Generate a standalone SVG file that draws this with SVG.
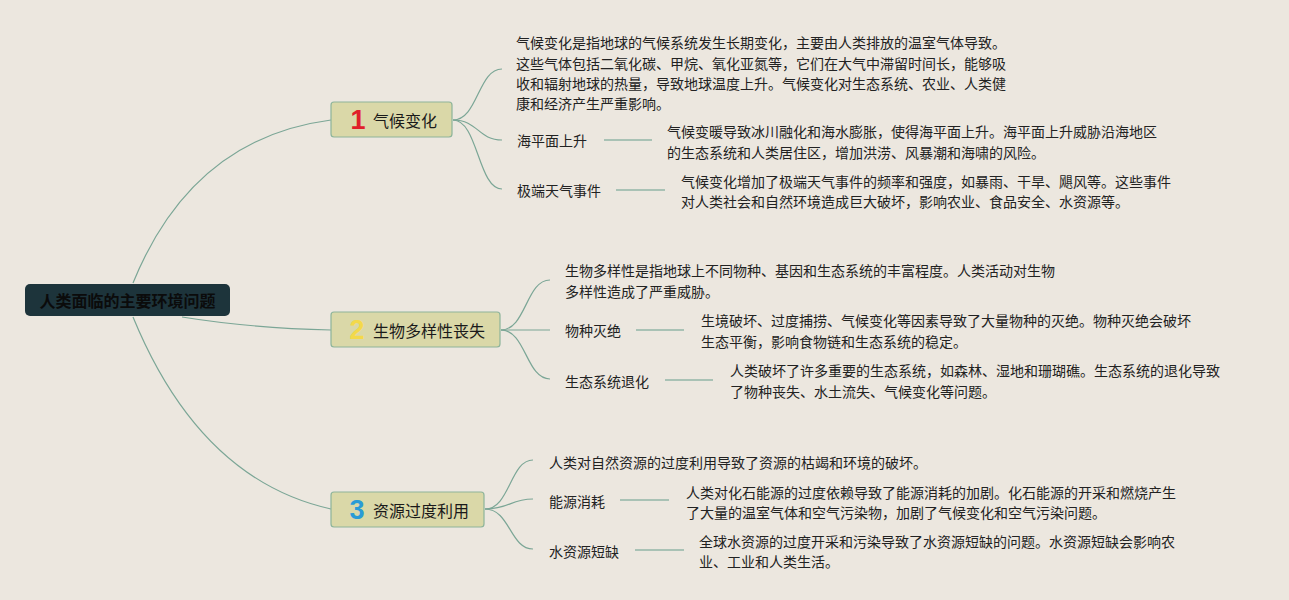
<svg xmlns="http://www.w3.org/2000/svg" width="1289" height="600" viewBox="0 0 1289 600">
<style>
text{font-family:"Noto Sans CJK SC","Noto Sans",sans-serif;fill:#222;}
.root{font-size:16px;font-weight:bold;fill:#0b0b0b;}
.topic{font-size:16px;fill:#1a1a1a;}
.num{font-family:"Liberation Sans",Arial,sans-serif;font-size:27px;font-weight:bold;text-anchor:middle;}
.leaf{font-size:14px;}
.tbox{fill:#DAD8A8;stroke:#8DB49A;stroke-width:1.2;}
.c{fill:none;stroke:#7BA696;stroke-width:1.2;}
.h{fill:none;stroke:#A9C2B5;stroke-width:2;}
</style>
<rect width="1289" height="600" fill="#ECE7DF"/>
<g id="connectors">
<path class="c" d="M133,283 Q192,138 331,120"/>
<path class="c" d="M182,317 Q250,328 331,330"/>
<path class="c" d="M133,317 Q200,480 331,509"/>
<path class="c" d="M453,120 C478,120 478,69 502,69"/>
<path class="c" d="M453,120 C478,120 478,140 502,140"/>
<path class="c" d="M453,120 C478,120 478,189 502,189"/>
<path class="c" d="M501,330 C526,330 526,280 550,280"/>
<path class="c" d="M501,330 L550,330"/>
<path class="c" d="M501,330 C526,330 526,379 550,379"/>
<path class="c" d="M485,509 C510,509 510,460 533,460"/>
<path class="c" d="M485,509 C510,509 510,499 533,499"/>
<path class="c" d="M485,509 C510,509 510,549 533,549"/>
<path class="h" d="M604,140 H652"/>
<path class="h" d="M616,190 H665"/>
<path class="h" d="M636,330 H684"/>
<path class="h" d="M665,380 H713"/>
<path class="h" d="M620,500 H669"/>
<path class="h" d="M635,550 H684"/>
</g>
<g id="root">
<rect x="25" y="284" width="205" height="32" rx="5" fill="#1D343B"/>
<text class="root" x="127.5" y="300" text-anchor="middle" dominant-baseline="central">人类面临的主要环境问题</text>
</g>
<g id="topic1">
<rect class="tbox" x="331" y="102" width="121" height="35" rx="3"/>
<text class="num" x="358" y="120" dominant-baseline="central" fill="#E0202A" style="fill:#E0202A">1</text>
<text class="topic" x="373" y="120" dominant-baseline="central">气候变化</text>
</g>
<g id="topic2">
<rect class="tbox" x="331" y="312" width="169" height="35" rx="3"/>
<text class="num" x="357" y="330" dominant-baseline="central" style="fill:#F3D94B">2</text>
<text class="topic" x="373" y="330" dominant-baseline="central">生物多样性丧失</text>
</g>
<g id="topic3">
<rect class="tbox" x="331" y="492" width="153" height="35" rx="3"/>
<text class="num" x="357" y="510" dominant-baseline="central" style="fill:#2A9BD6">3</text>
<text class="topic" x="373" y="510" dominant-baseline="central">资源过度利用</text>
</g>
<g id="t1-desc">
<text class="leaf" x="516" y="42" dominant-baseline="central">气候变化是指地球的气候系统发生长期变化，主要由人类排放的温室气体导致。</text>
<text class="leaf" x="516" y="62.5" dominant-baseline="central">这些气体包括二氧化碳、甲烷、氧化亚氮等，它们在大气中滞留时间长，能够吸</text>
<text class="leaf" x="516" y="83" dominant-baseline="central">收和辐射地球的热量，导致地球温度上升。气候变化对生态系统、农业、人类健</text>
<text class="leaf" x="516" y="102.5" dominant-baseline="central">康和经济产生严重影响。</text>
</g>
<g id="t1-sea">
<text class="leaf" x="517" y="140" dominant-baseline="central">海平面上升</text>
<text class="leaf" x="667" y="131" dominant-baseline="central">气候变暖导致冰川融化和海水膨胀，使得海平面上升。海平面上升威胁沿海地区</text>
<text class="leaf" x="667" y="152" dominant-baseline="central">的生态系统和人类居住区，增加洪涝、风暴潮和海啸的风险。</text>
</g>
<g id="t1-weather">
<text class="leaf" x="517" y="190" dominant-baseline="central">极端天气事件</text>
<text class="leaf" x="681" y="181" dominant-baseline="central">气候变化增加了极端天气事件的频率和强度，如暴雨、干旱、飓风等。这些事件</text>
<text class="leaf" x="681" y="201" dominant-baseline="central">对人类社会和自然环境造成巨大破坏，影响农业、食品安全、水资源等。</text>
</g>
<g id="t2-desc">
<text class="leaf" x="565" y="270" dominant-baseline="central">生物多样性是指地球上不同物种、基因和生态系统的丰富程度。人类活动对生物</text>
<text class="leaf" x="565" y="291" dominant-baseline="central">多样性造成了严重威胁。</text>
</g>
<g id="t2-species">
<text class="leaf" x="565" y="330" dominant-baseline="central">物种灭绝</text>
<text class="leaf" x="701" y="320" dominant-baseline="central">生境破坏、过度捕捞、气候变化等因素导致了大量物种的灭绝。物种灭绝会破坏</text>
<text class="leaf" x="701" y="341" dominant-baseline="central">生态平衡，影响食物链和生态系统的稳定。</text>
</g>
<g id="t2-eco">
<text class="leaf" x="565" y="381" dominant-baseline="central">生态系统退化</text>
<text class="leaf" x="730" y="370" dominant-baseline="central">人类破坏了许多重要的生态系统，如森林、湿地和珊瑚礁。生态系统的退化导致</text>
<text class="leaf" x="730" y="391" dominant-baseline="central">了物种丧失、水土流失、气候变化等问题。</text>
</g>
<g id="t3-desc">
<text class="leaf" x="549" y="462" dominant-baseline="central">人类对自然资源的过度利用导致了资源的枯竭和环境的破坏。</text>
</g>
<g id="t3-energy">
<text class="leaf" x="549" y="501" dominant-baseline="central">能源消耗</text>
<text class="leaf" x="686" y="492" dominant-baseline="central">人类对化石能源的过度依赖导致了能源消耗的加剧。化石能源的开采和燃烧产生</text>
<text class="leaf" x="686" y="512" dominant-baseline="central">了大量的温室气体和空气污染物，加剧了气候变化和空气污染问题。</text>
</g>
<g id="t3-water">
<text class="leaf" x="549" y="551" dominant-baseline="central">水资源短缺</text>
<text class="leaf" x="699" y="541" dominant-baseline="central">全球水资源的过度开采和污染导致了水资源短缺的问题。水资源短缺会影响农</text>
<text class="leaf" x="699" y="561" dominant-baseline="central">业、工业和人类生活。</text>
</g>
</svg>
